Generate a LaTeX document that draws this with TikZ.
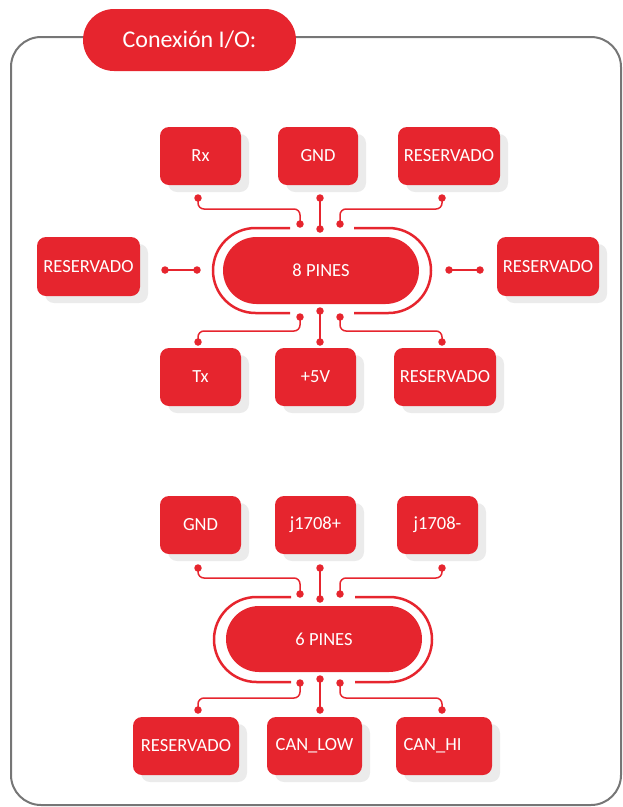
\documentclass[tikz,border=0pt]{standalone}
\usepackage{fontspec}
\setmainfont{Carlito}
\usetikzlibrary{shapes.misc,shadows}
\definecolor{brandred}{RGB}{230,37,46}
\definecolor{shgray}{RGB}{235,235,235}
\definecolor{framegray}{RGB}{118,118,118}
\begin{document}
\begin{tikzpicture}[x=1pt,y=-1pt,
  box/.style={rectangle, rounded corners=9pt, fill=brandred, text=white, inner sep=0pt,
    minimum height=58pt, font=\fontsize{18.5}{20}\selectfont,
    drop shadow={shadow xshift=8pt, shadow yshift=-7pt, fill=shgray, opacity=1}},
  pill/.style={rounded rectangle, fill=brandred, text=white, inner sep=0pt,
    minimum width=196pt, minimum height=67pt, font=\fontsize{18.5}{20}\selectfont},
  titlebox/.style={rounded rectangle, fill=brandred, text=white, inner sep=0pt,
    minimum width=213pt, minimum height=62pt, font=\fontsize{24}{26}\selectfont},
  dot/.style={circle, fill=brandred, inner sep=0pt, minimum size=7.5pt},
  conn/.style={draw=brandred, line width=1.5pt, rounded corners=6pt},
  ring/.style={draw=brandred, line width=2.5pt},
  frameline/.style={draw=framegray, line width=2pt, rounded corners=30pt}
]
\useasboundingbox (0,0) rectangle (623,807);

% frame and title
\draw[frameline] (11,37) rectangle (621,805);
\node[titlebox] (ttl) at (189.5,40) {Conexión I/O:};

% ===== upper group =====
\node[box, minimum width=81pt] (rx) at (200.5,156) {Rx};
\node[box, minimum width=80pt] (gndA) at (318,156) {GND};
\node[box, minimum width=102pt] (resA) at (449,156) {RESERVADO};
\node[box, minimum width=103pt, minimum height=59pt] (resL) at (88.5,266.5) {RESERVADO};
\node[box, minimum width=102pt, minimum height=59pt] (resR) at (548,266.5) {RESERVADO};
\node[box, minimum width=81pt] (tx) at (200.5,377) {Tx};
\node[box, minimum width=81pt] (vcc) at (315.5,377) {+5V};
\node[box, minimum width=102pt] (resB) at (445,377) {RESERVADO};

\node[pill] (pin8) at (321,270.5) {8 PINES};
\draw[ring] (290,228) -- (255.5,228) arc[start angle=270, end angle=90, radius=42.5] -- (290,313);
\draw[ring] (354,228) -- (388.5,228) arc[start angle=270, end angle=450, radius=42.5] -- (354,313);

\node[dot] (ua1) at (198,198) {};
\node[dot] (ua2) at (320,198) {};
\node[dot] (ua3) at (442,198) {};
\node[dot] (ub1) at (300,224) {};
\node[dot] (ub2) at (320,229) {};
\node[dot] (ub3) at (340,224) {};
\node[dot] (uc1) at (300,317) {};
\node[dot] (uc2) at (320,311) {};
\node[dot] (uc3) at (340,317) {};
\node[dot] (ud1) at (198,342) {};
\node[dot] (ud2) at (320,342) {};
\node[dot] (ud3) at (442,342) {};
\node[dot] (ul1) at (165,270) {};
\node[dot] (ul2) at (197,270) {};
\node[dot] (ur1) at (449,270) {};
\node[dot] (ur2) at (480,270) {};

\draw[conn] (ua1.center) -- ++(0,11) -| (ub1.center);
\draw[conn] (ua3.center) -- ++(0,11) -| (ub3.center);
\draw[conn] (ua2.center) -- (ub2.center);
\draw[conn] (uc1.center) -- ++(0,14) -| (ud1.center);
\draw[conn] (uc3.center) -- ++(0,14) -| (ud3.center);
\draw[conn] (uc2.center) -- (ud2.center);
\draw[conn] (ul1.center) -- (ul2.center);
\draw[conn] (ur1.center) -- (ur2.center);

% ===== lower group =====
\node[box, minimum width=81pt] (gndB) at (200.5,525) {GND};
\node[box, minimum width=81pt] (jp) at (315.5,525) {j1708+};
\node[box, minimum width=81pt] (jm) at (437.5,525) {j1708-};
\node[box, minimum width=106pt] (resC) at (186,746) {RESERVADO};
\node[box, minimum width=95pt] (canlow) at (314.5,746) {CAN\_LOW};
\node[box, minimum width=96pt] (canhi) at (444,746) {CAN\_HI\hspace*{23pt}};

\node[pill, minimum height=66pt] (pin6) at (324,639) {6 PINES};
\draw[ring] (291,597) -- (256.5,597) arc[start angle=270, end angle=90, radius=42.5] -- (291,682);
\draw[ring] (355,597) -- (389.5,597) arc[start angle=270, end angle=450, radius=42.5] -- (355,682);

\node[dot] (la1) at (198,568) {};
\node[dot] (la2) at (320,568) {};
\node[dot] (la3) at (442,568) {};
\node[dot] (lb1) at (300,594) {};
\node[dot] (lb2) at (320,599) {};
\node[dot] (lb3) at (340,594) {};
\node[dot] (lc1) at (300,683) {};
\node[dot] (lc2) at (320,679) {};
\node[dot] (lc3) at (340,683) {};
\node[dot] (ld1) at (198,710) {};
\node[dot] (ld2) at (320,710) {};
\node[dot] (ld3) at (442,710) {};

\draw[conn] (la1.center) -- ++(0,10) -| (lb1.center);
\draw[conn] (la3.center) -- ++(0,10) -| (lb3.center);
\draw[conn] (la2.center) -- (lb2.center);
\draw[conn] (lc1.center) -- ++(0,15) -| (ld1.center);
\draw[conn] (lc3.center) -- ++(0,15) -| (ld3.center);
\draw[conn] (lc2.center) -- (ld2.center);
\end{tikzpicture}
\end{document}
